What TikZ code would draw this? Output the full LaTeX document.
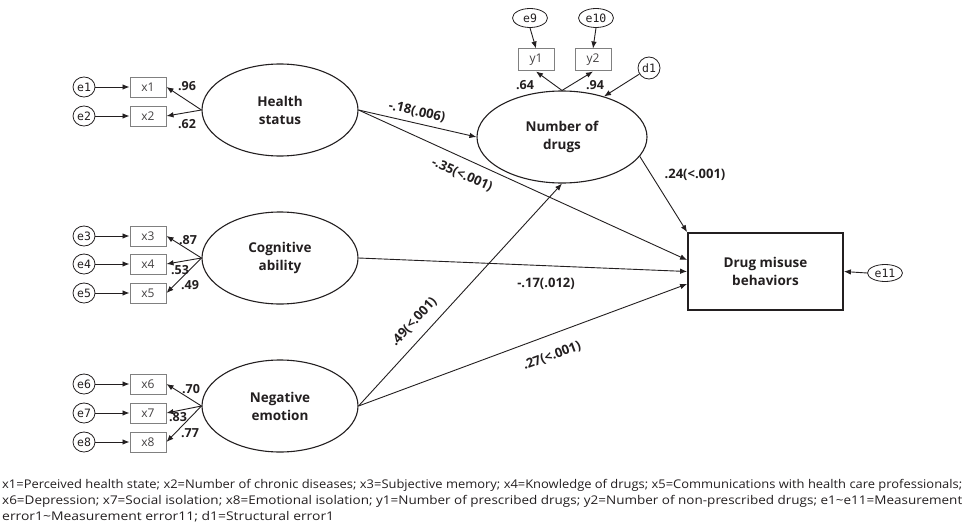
\documentclass[tikz,border=0pt]{standalone}
\usepackage{fontspec}
\setmainfont{Open Sans}
\newfontfamily\emono{DejaVu Sans Mono}
\usetikzlibrary{arrows.meta,shapes.geometric,calc}
\definecolor{ink}{HTML}{231F20}
\definecolor{boxgray}{HTML}{808080}
\tikzset{
 conn/.style={draw=ink, line width=0.9pt, -{Latex[length=7pt,width=5.5pt]}},
 latent/.style={ellipse, draw=ink, line width=1.1pt, minimum width=156pt, minimum height=92pt, inner sep=0pt, align=center, font=\fontsize{13.5}{18}\selectfont\bfseries, text=ink},
 obs/.style={rectangle, draw=boxgray, line width=1pt, minimum width=36pt, minimum height=20pt, inner sep=0pt, font=\fontsize{12}{12}\selectfont, text=ink!85},
 err/.style={ellipse, draw=ink, line width=0.8pt, minimum width=22pt, minimum height=20pt, inner sep=0pt, font=\emono\fontsize{11.5}{11.5}\selectfont, text=ink},
 lab/.style={font=\fontsize{13}{13}\selectfont\bfseries, text=ink, inner sep=0pt},
 load/.style={font=\fontsize{12.5}{12.5}\selectfont\bfseries, text=ink, inner sep=0pt},
 foot/.style={font=\fontsize{12}{12}\selectfont, text=ink, inner sep=0pt, anchor=west},
}
\begin{document}
\begin{tikzpicture}[x=1pt,y=-1pt]
\fill[white] (0,0) rectangle (966,527);
\useasboundingbox (0,0) rectangle (966,527);

% latent variables
\node[latent] (hs) at (280,110) {Health\\status};
\node[latent] (ca) at (280,258) {Cognitive\\ability};
\node[latent] (ne) at (280,406) {Negative\\emotion};
\node[latent, minimum width=170pt] (nod) at (562,137) {Number of\\drugs};
\node[rectangle, draw=ink, line width=1.8pt, minimum width=155pt, minimum height=77pt, inner sep=0pt, align=center, font=\fontsize{13.5}{18}\selectfont\bfseries, text=ink] (dmb) at (765.5,271.5) {Drug misuse\\behaviors};

% indicators
\node[obs] (x1) at (148,87) {x1};
\node[obs] (x2) at (148,116) {x2};
\node[obs] (x3) at (148,236) {x3};
\node[obs] (x4) at (148,264) {x4};
\node[obs] (x5) at (148,293) {x5};
\node[obs] (x6) at (148,384) {x6};
\node[obs] (x7) at (148,413) {x7};
\node[obs] (x8) at (148,442) {x8};
\node[obs, minimum height=22pt] (y1) at (536,60) {y1};
\node[obs, minimum height=22pt] (y2) at (593,60) {y2};

% errors
\node[err] (e1) at (84,87) {e1};
\node[err] (e2) at (84,116) {e2};
\node[err] (e3) at (84,236) {e3};
\node[err] (e4) at (84,264) {e4};
\node[err] (e5) at (84,293) {e5};
\node[err] (e6) at (84,384) {e6};
\node[err] (e7) at (84,413) {e7};
\node[err] (e8) at (84,442) {e8};
\node[err, minimum width=35pt, minimum height=19pt] (e9) at (530,18) {e9};
\node[err, minimum width=35pt, minimum height=19pt] (e10) at (596,18) {e10};
\node[err, minimum width=22pt, minimum height=22pt] (d1) at (649,68) {d1};
\node[err, minimum width=35pt, minimum height=17pt] (e11) at (885,273) {e11};

% error arrows
\foreach \i in {1,...,8} \draw[conn] (e\i.east) -- (x\i.west);
\draw[conn] (e9.south) -- (y1.north);
\draw[conn] (e10.south) -- (y2.north);
\draw[conn] (d1) -- (nod.44);
\draw[conn] (e11.west) -- (dmb.east);

% loadings
\draw[conn] (hs.west) -- (x1.east);
\draw[conn] (hs.west) -- (x2.east);
\draw[conn] (ca.west) -- (x3.east);
\draw[conn] (ca.west) -- (x4.east);
\draw[conn] (ca.west) -- (x5.east);
\draw[conn] (ne.west) -- (x6.east);
\draw[conn] (ne.west) -- (x7.east);
\draw[conn] (ne.west) -- (x8.east);
\draw[conn] (nod.north) -- (y1.south);
\draw[conn] (nod.north) -- (y2.south);

% structural paths
\draw[conn] (hs.east) -- (nod.west);
\draw[conn] (hs.east) -- ([yshift=11.5pt]dmb.west);
\draw[conn] (ca.east) -- (dmb.west);
\draw[conn] (ne.east) -- ([yshift=-12.5pt]dmb.west);
\draw[conn] (ne.east) -- (nod.south);
\draw[conn] (nod.-14) -- (dmb.north west);

% loading labels
\node[load] (l1) at (187,86) {.96};
\node[load] (l2) at (187,124) {.62};
\node[load] (l3) at (188,240) {.87};
\node[load] (l4) at (180,270) {.53};
\node[load] (l5) at (190,285) {.49};
\node[load] (l6) at (191,389) {.70};
\node[load] (l7) at (178,417) {.83};
\node[load] (l8) at (190,433) {.77};
\node[load] (l9) at (525,85) {.64};
\node[load] (l10) at (595,85) {.94};

% path labels
\node[lab, rotate=-12.8] (p1) at (417,112) {-.18(.006)};
\node[lab, rotate=-24] (p2) at (462,175) {-.35(<.001)};
\node[lab] (p3) at (546,284) {-.17(.012)};
\node[lab, rotate=47] (p4) at (414,322) {.49(<.001)};
\node[lab, rotate=20.3] (p5) at (552,356) {.27(<.001)};
\node[lab] (p6) at (695,175) {.24(<.001)};

% footnote
\node[foot] (f1) at (2,485) {\resizebox{960pt}{\height}{x1=Perceived health state; x2=Number of chronic diseases; x3=Subjective memory; x4=Knowledge of drugs; x5=Communications with health care professionals;}};
\node[foot] (f2) at (2,501) {\resizebox{960pt}{\height}{x6=Depression; x7=Social isolation; x8=Emotional isolation; y1=Number of prescribed drugs; y2=Number of non-prescribed drugs; e1\textasciitilde e11=Measurement}};
\node[foot] (f3) at (2,517) {\resizebox{332pt}{\height}{error1\textasciitilde Measurement error11; d1=Structural error1}};
\end{tikzpicture}
\end{document}
